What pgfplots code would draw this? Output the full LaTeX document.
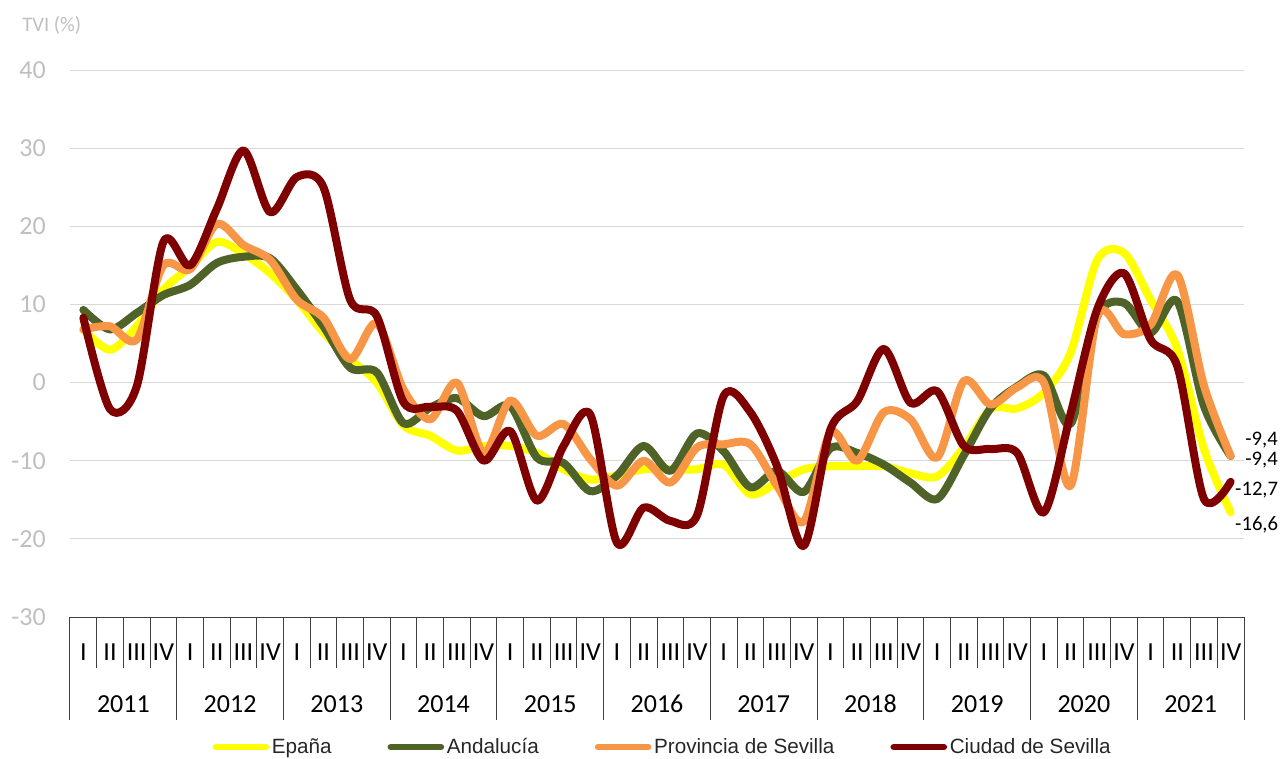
\documentclass[border=0pt]{standalone}
\usepackage{fontspec}
\setmainfont{Carlito}
\newfontfamily\legfont{Liberation Sans}
\usepackage{pgfplots}
\usepackage{pgfplotstable}
\pgfplotsset{compat=1.18}

\definecolor{cEsp}{RGB}{255,255,0}
\definecolor{cAnd}{RGB}{79,98,40}
\definecolor{cPro}{RGB}{247,150,70}
\definecolor{cCiu}{RGB}{127,0,0}
\definecolor{cGrid}{RGB}{217,217,217}
\definecolor{cTick}{RGB}{191,191,191}
\definecolor{cFrame}{RGB}{64,64,64}

% TVI (%) por trimestre, 2011 I .. 2021 IV
\pgfplotstableread{
q  esp    and    pro    ciu
0   6.8    9.3    6.8    8.3
1   4.2    6.8    7.2   -3.4
2   7.2    8.9    5.5   -0.5
3  11.9   11.2   15.0   18.0
4  14.8   12.5   14.5   15.0
5  18.0   15.3   20.3   22.2
6  16.5   16.1   17.6   29.7
7  14.0   15.9   15.7   21.8
8  10.6   11.9   10.6   26.3
9   6.4    7.2    8.3   25.0
10  3.0    1.9    3.0   10.6
11  0.0    1.3    7.6    8.5
12 -5.5   -5.2   -0.9   -2.5
13 -6.8   -3.2   -4.7   -3.1
14 -8.7   -2.0    0.0   -3.6
15 -8.1   -4.3   -9.0  -10.0
16 -8.1   -3.0   -2.3   -6.2
17 -9.0   -9.6   -6.8  -15.1
18 -11.1 -10.3   -5.3   -8.1
19 -12.4 -13.9   -9.8   -4.1
20 -11.9 -11.9  -13.2  -20.5
21 -11.1  -8.1  -10.0  -16.0
22 -11.1 -11.3  -12.8  -17.7
23 -11.1  -6.5   -8.3  -17.0
24 -10.5  -8.8   -7.9   -1.7
25 -14.3 -13.4   -7.9   -3.8
26 -12.8 -11.3  -13.2  -10.7
27 -11.1 -14.0  -17.8  -20.9
28 -10.7  -8.4   -6.4   -6.0
29 -10.7  -9.0  -10.0   -2.4
30 -10.7 -10.5   -3.8    4.3
31 -11.6 -12.8   -4.7   -2.6
32 -12.0 -14.9   -9.6   -1.1
33  -8.3  -9.3    0.2   -8.1
34  -3.4  -3.3   -2.8   -8.5
35  -3.3  -0.5   -0.6   -9.0
36  -1.3   0.9    0.0  -16.6
37   3.8  -5.3  -13.2   -4.0
38  15.7   8.5    8.5    9.4
39  16.6  10.2    6.2   14.0
40  10.6   6.4    7.4    5.5
41   4.3  10.4   13.8    2.1
42  -8.5  -3.0   -0.4  -14.9
43 -16.6  -9.4   -9.4  -12.7
}\tvidata

\newcommand\tickfont{\fontsize{19.5}{21}\selectfont}
\newcommand\lastfont{\fontsize{15.5}{17}\selectfont}

\begin{document}
\begin{tikzpicture}
% 1284 x 758 px at 0.75pt per px; plot area at (70,70)-(1244,617) px
\useasboundingbox (-52.5pt,-105.75pt) rectangle (910.5pt,462.75pt);
\begin{axis}[
  at={(0pt,0pt)}, anchor=south west,
  scale only axis,
  width=880.5pt, height=410.25pt,
  xmin=-0.5, xmax=43.5,
  ymin=-30, ymax=40,
  ytick={-30,-20,...,40},
  xtick={0,...,43},
  xticklabels={I,II,III,IV,I,II,III,IV,I,II,III,IV,I,II,III,IV,
               I,II,III,IV,I,II,III,IV,I,II,III,IV,I,II,III,IV,
               I,II,III,IV,I,II,III,IV,I,II,III,IV},
  ymajorgrids,
  grid style={cGrid, line width=0.75pt},
  axis line style={draw=none},
  major tick length=0pt,
  /pgf/number format/assume math mode=true,
  yticklabel style={font=\tickfont, text=cTick, anchor=east,
                    inner sep=0pt, xshift=-18pt},
  xticklabel style={font=\tickfont, text=black, anchor=center,
                    inner sep=0pt, yshift=-26pt},
  clip=false,
  legend columns=4,
  legend style={draw=none, fill=none, at={(0.505,0)}, anchor=center,
                yshift=-97.5pt, font=\legfont\fontsize{15.5}{17}\selectfont,
                text=black!85,
                /tikz/every odd column/.append style={column sep=0pt},
                /tikz/every even column/.append style={column sep=40pt}},
  legend image code/.code={%
    \draw[#1, line width=5pt, line cap=round] (0pt,0pt) -- (37.5pt,0pt);},
  every axis plot/.append style={line width=6pt, line cap=round,
                                 line join=round, smooth, no markers},
]

% ---- category frame under the plot ---------------------------------
\draw[cFrame, line width=0.75pt] (axis cs:-0.5,-30) -- (axis cs:43.5,-30);
\pgfplotsinvokeforeach{0,...,44}{
  \draw[cFrame, line width=0.75pt] (axis cs:#1-0.5,-30) -- (axis cs:#1-0.5,-36.5);
}
\pgfplotsinvokeforeach{0,...,11}{
  \draw[cFrame, line width=0.75pt] (axis cs:4*#1-0.5,-30) -- (axis cs:4*#1-0.5,-43.2);
}
\pgfplotsinvokeforeach{0,...,10}{
  \node[font=\tickfont, inner sep=0pt, anchor=base] at (axis cs:1.5+4*#1,-42.2)
    {\the\numexpr2011+#1\relax};
}

% ---- series ----------------------------------------------------------
\addplot[cEsp] table[x=q, y=esp] {\tvidata};
\addlegendentry{Epaña}
\addplot[cAnd] table[x=q, y=and] {\tvidata};
\addlegendentry{Andalucía}
\addplot[cPro] table[x=q, y=pro] {\tvidata};
\addlegendentry{Provincia de Sevilla}
\addplot[cCiu] table[x=q, y=ciu] {\tvidata};
\addlegendentry{Ciudad de Sevilla}

% ---- last-value labels -------------------------------------------------
\node[font=\lastfont, anchor=west, inner sep=0pt] at (axis cs:43.54,-7.35) {-9,4};
\node[font=\lastfont, anchor=west, inner sep=0pt] at (axis cs:43.54,-9.9) {-9,4};
\node[font=\lastfont, anchor=west, inner sep=0pt] at (axis cs:43.16,-13.75) {-12,7};
\node[font=\lastfont, anchor=west, inner sep=0pt] at (axis cs:43.16,-18.25) {-16,6};
\end{axis}
\node[anchor=west, inner sep=0pt, text=cTick, font=\fontsize{15.5}{17}\selectfont]
  at (-36pt,444pt) {TVI (\%)};
\end{tikzpicture}
\end{document}
